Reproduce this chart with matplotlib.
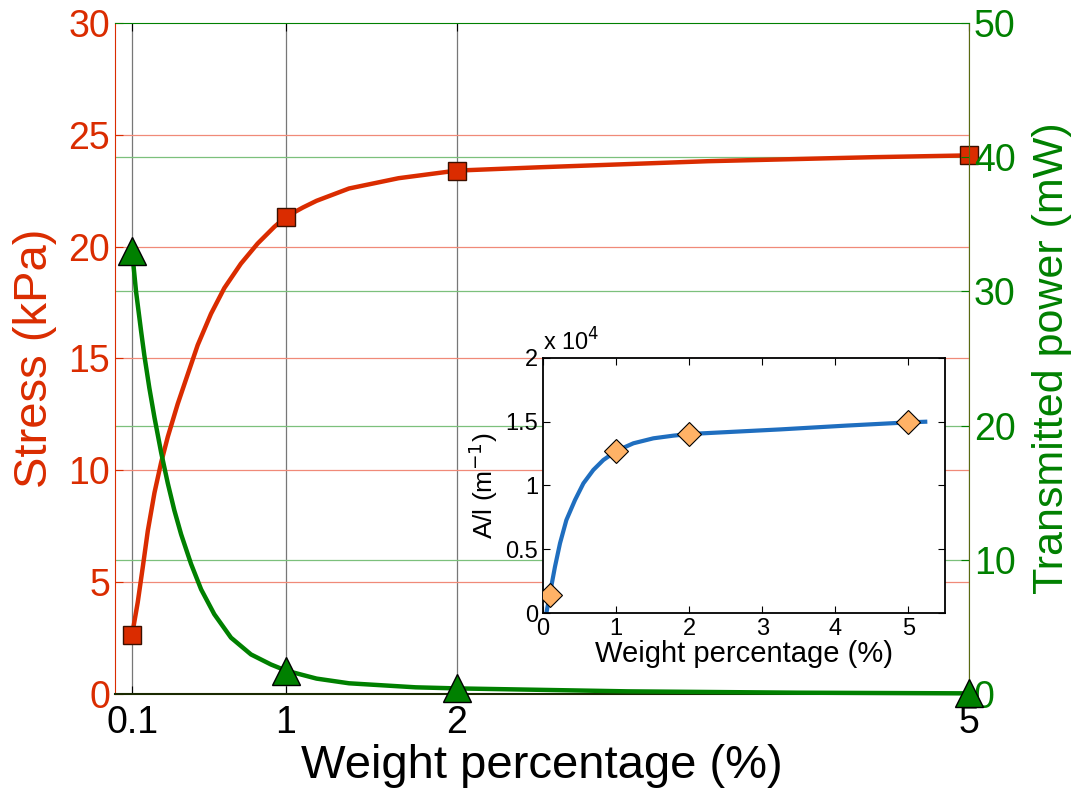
import matplotlib
matplotlib.use('Agg')
import matplotlib.pyplot as plt
from matplotlib.ticker import FuncFormatter

plt.rcParams['font.family'] = ['Liberation Sans', 'DejaVu Sans']

# measured points
wt = [0.1, 1, 2, 5]
stress = [2.65, 21.33, 23.4, 24.08]
power = [33.0, 1.75, 0.45, 0.05]

# fitted curves (kPa and mW)
stress_fit_x = [0.1, 0.133, 0.163, 0.192, 0.231, 0.270, 0.309, 0.367, 0.426, 0.484, 0.562,
                0.640, 0.737, 0.835, 0.932, 1.0, 1.1, 1.18, 1.37, 1.66, 2.0, 2.49, 3.47, 4.44, 5.0]
stress_fit_y = [2.65, 4.1, 5.7, 7.3, 9.0, 10.35, 11.5, 12.97, 14.3, 15.6, 17.0,
                18.15, 19.24, 20.14, 20.88, 21.33, 21.75, 22.05, 22.6, 23.06, 23.4, 23.55, 23.82, 24.0, 24.08]
power_fit_x = [0.1, 0.123, 0.153, 0.172, 0.201, 0.231, 0.270, 0.309, 0.347, 0.387, 0.445,
               0.504, 0.581, 0.679, 0.796, 0.913, 1.0, 1.18, 1.37, 1.76, 2.0, 3.0, 4.0, 5.0]
power_fit_y = [33.0, 30.0, 27.0, 25.2, 22.8, 20.6, 18.0, 15.7, 13.7, 11.9, 9.7,
               7.8, 5.95, 4.2, 2.95, 2.2, 1.75, 1.15, 0.8, 0.5, 0.42, 0.2, 0.1, 0.05]

# inset: absorbance per length
al = [1450, 12730, 14040, 14950]
al_fit_x = [0.05, 0.096, 0.164, 0.233, 0.32, 0.438, 0.553, 0.689, 0.826, 1.01, 1.237,
            1.51, 1.785, 2.01, 3.25, 4.16, 5.0, 5.23]
al_fit_y = [100, 1545, 3630, 5470, 7290, 8860, 10170, 11220, 12000, 12730, 13310,
            13700, 13910, 14040, 14400, 14700, 14950, 15000]

xticks = [0.1, 1, 2, 5]
xticklabels = ['0.1', '1', '2', '5']
stress_ticks = [0, 5, 10, 15, 20, 25, 30]
power_ticks = [0, 10, 20, 30, 40, 50]

red = '#DA2C00'
green = '#008000'
blue = '#1F6EBF'
orange = '#FFB266'

fig = plt.figure(figsize=(10.78, 7.92), dpi=100)
ax = fig.add_axes([0.1067, 0.1237, 0.7922, 0.8473])
ax2 = ax.twinx()

ax.set_xlim(0, 5)
ax.set_ylim(0, 30)
ax2.set_ylim(0, 50)

# grid lines
for x in xticks:
    ax.axvline(x, color='#777777', lw=0.9, zorder=0)
for t in stress_ticks[1:-1]:
    ax.axhline(t, color='#F08A78', lw=0.9, zorder=0)
for t in power_ticks[1:-1]:
    ax.axhline(t * 30 / 50, color='#7CC07C', lw=0.9, zorder=0)

ax.plot(stress_fit_x, stress_fit_y, color=red, lw=3.2, zorder=2, solid_joinstyle='round')
ax.plot(wt, stress, 's', color=red, mec='#3a1000', mew=1.0, ms=13, zorder=3, clip_on=False)

ax2.plot(power_fit_x, power_fit_y, color=green, lw=3.2, zorder=2, clip_on=False,
         solid_joinstyle='round')
ax2.plot(wt, power, '^', color=green, mec='black', mew=1.0, ms=20, zorder=3, clip_on=False)

ax.set_xticks(xticks)
ax.set_xticklabels(xticklabels)
ax.set_yticks(stress_ticks)
ax2.set_yticks(power_ticks)

ax.tick_params(axis='x', direction='in', top=True, length=6, labelsize=27, pad=8)
ax.tick_params(axis='y', direction='in', colors=red, length=6, labelsize=27)
ax2.tick_params(axis='y', direction='in', colors=green, length=6, labelsize=27)

ax.set_xlabel('Weight percentage (%)', fontsize=34, labelpad=2)
ax.set_ylabel('Stress (kPa)', fontsize=34, color=red, labelpad=8)
ax2.set_ylabel('Transmitted power (mW)', fontsize=31, color=green, labelpad=12)

ax.spines['left'].set_color(red)
ax.spines['bottom'].set_color('#1a2a00')
ax.spines['bottom'].set_linewidth(1.5)
ax2.spines['left'].set_visible(False)
ax2.spines['bottom'].set_visible(False)
ax2.spines['right'].set_color('#5a6a10')
ax2.spines['top'].set_color(green)
ax.spines['top'].set_visible(False)
ax.spines['right'].set_visible(False)

# inset
axi = fig.add_axes([0.5037, 0.226, 0.3729, 0.322])
axi.set_facecolor('white')
axi.plot(al_fit_x, al_fit_y, color=blue, lw=3, zorder=2, solid_joinstyle='round')
axi.plot(wt, al, 'D', color=orange, mec='black', mew=0.8, ms=12, zorder=3)
axi.set_xlim(0, 5.5)
axi.set_ylim(0, 20000)
axi.set_xticks([0, 1, 2, 3, 4, 5])
axi.set_yticks([0, 5000, 10000, 15000, 20000])
axi.yaxis.set_major_formatter(FuncFormatter(lambda v, p: '%g' % (v / 1e4)))
axi.tick_params(direction='in', top=True, right=True, length=5, labelsize=17)
for s in axi.spines.values():
    s.set_linewidth(1.3)
axi.set_xlabel('Weight percentage (%)', fontsize=21, labelpad=0)
axi.set_ylabel('A/l (m$^{-1}$)', fontsize=19, labelpad=4)
axi.text(0.0, 1.01, r'x 10$^4$', transform=axi.transAxes, fontsize=17, ha='left', va='bottom')

fig.savefig('out.png', dpi=100)
